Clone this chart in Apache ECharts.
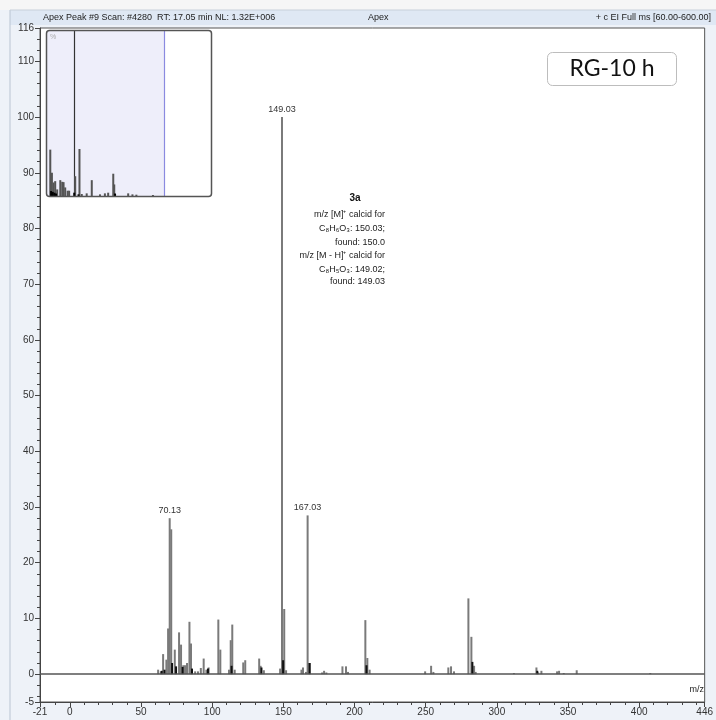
<!DOCTYPE html>
<html>
<head>
<meta charset="utf-8">
<script src="https://cdn.jsdelivr.net/npm/echarts@6/dist/echarts.min.js"></script>
<style>html,body{margin:0;padding:0;background:#fff}#c{width:716px;height:720px}</style>
</head>
<body>
<div id="c"></div>
<script>
// ---- Data (m/z, relative abundance %) ----
const peaksGray = [
  [62.0,0.8],[63.9,0.5],[65.5,3.6],[67.8,2.6],[69.0,8.2],[70.13,28.0],[71.2,26.0],[73.7,4.4],
  [76.7,7.5],[78.1,5.3],[79.7,1.6],[80.9,1.6],[82.3,2.0],[84.0,9.4],[85.1,5.5],[88.0,0.5],
  [90.0,0.5],[92.0,1.1],[94.0,2.8],[95.9,0.8],[97.5,1.2],[104.3,9.8],[105.7,4.4],[111.8,0.8],
  [113.0,6.1],[114.1,8.9],[115.8,0.8],[121.8,2.1],[123.2,2.5],[133.0,2.8],[134.0,1.5],[136.3,0.7],
  [147.7,1.0],[149.03,100],[150.6,11.7],[151.9,0.7],[162.7,0.8],[163.8,1.2],[165.9,0.4],
  [167.03,28.5],[168.7,2.0],[177.2,0.3],[178.6,0.6],[180.2,0.3],[191.5,1.4],[194.0,1.4],[195.4,0.4],
  [207.6,9.7],[209.0,2.9],[210.6,0.8],[249.6,0.5],[253.8,1.5],[255.4,0.4],[265.9,1.2],[267.8,1.4],
  [269.9,0.5],[280.0,13.6],[282.1,6.7],[284.0,1.5],[285.1,0.4],[312.0,0.2],[327.8,1.2],[329.0,0.3],
  [331.3,0.6],[342.3,0.5],[343.7,0.6],[347.0,0.2],[356.1,0.7],[407.8,0.2]
];
const peaksDark = [
  [64.5,0.6],[66.5,0.8],[71.8,2.0],[74.6,1.4],[79.2,1.3],[85.8,1.0],[97.0,1.0],[113.6,1.5],
  [134.6,1.2],[149.8,2.5],[168.3,2.0],[208.4,1.6],[282.8,2.2],[328.4,0.6]
];
const labeledPeaks = { "149.03": "149.03", "167.03": "167.03", "70.13": "70.13" };

// inset overview spectrum (arbitrary 0-100 position, % height)
const insetPeaks = [
  [2.0,28.1],[3.0,14.1],[4.0,8.2],[5.0,9.0],[6.2,4.0],[8.1,9.6],[9.3,8.6],[10.1,8.4],[11.1,5.2],
  [12.6,3.2],[13.5,3.2],[17.2,12.0],[19.8,28.5],[21.2,1.2],[24.2,1.6],[27.3,9.6],[32.3,1.0],
  [35.3,1.6],[37.3,2.0],[40.4,13.5],[41.0,7.0],[49.5,1.6],[52.1,1.0],[54.5,0.8],[64.6,0.6]
];
const insetDark = [[2.5,3.0],[3.5,2.5],[4.5,2.0],[5.5,1.5],[16.6,2.0],[19.2,1.0],[41.5,1.5]];
const insetMarkerBlack = 16.6;
const insetWindowEnd = 71.4;

// ticks
const xTickLabels = [-21,0,50,100,150,200,250,300,350,400,446];
const yTickLabels = [-5,0,10,20,30,40,50,60,70,80,90,100,110,116];
const xMinorTicks = [];
for (let v = -10; v < 446; v += 10) if (v % 50 !== 0) xMinorTicks.push(v);
const yMinorTicks = [];
for (let v = -4; v < 116; v += 2) if (v % 10 !== 0) yMinorTicks.push(v);

const headerLeft = "Apex Peak #9 Scan: #4280  RT: 17.05 min NL: 1.32E+006";
const headerMid = "Apex";
const headerRight = "+ c EI Full ms [60.00-600.00]";
const annTitle = "3a";
const annLines = [
  "m/z [M]\u207A calcid for",
  "C\u2088H\u2086O\u2083: 150.03;",
  "found: 150.0",
  "m/z [M - H]\u207A calcid for",
  "C\u2088H\u2085O\u2083: 149.02;",
  "found: 149.03"
];
const sampleTag = "RG-10 h";

const F = "'Liberation Sans', Arial, sans-serif";
const chart = echarts.init(document.getElementById('c'), null, {renderer: 'canvas'});

const grayData = peaksGray.map(p => {
  const key = String(p[0]);
  if (labeledPeaks[key]) {
    return {value: p, label: {show: true, position: 'top', distance: 3, formatter: labeledPeaks[key],
      fontSize: 9, color: '#333', fontFamily: F}};
  }
  return {value: p};
});

const graphics = [
  {type: 'rect', shape: {x: 0, y: 0, width: 716, height: 720}, style: {fill: '#eef2f8'}, z: -10, silent: true},
  {type: 'rect', shape: {x: 0, y: 0, width: 716, height: 10}, style: {fill: '#f6f6f6'}, z: -9, silent: true},
  {type: 'rect', shape: {x: 10, y: 10, width: 706, height: 15}, style: {fill: '#dfe8f4'}, z: -9, silent: true},
  {type: 'line', shape: {x1: 10, y1: 10, x2: 10, y2: 720}, style: {stroke: '#b9c4d2', lineWidth: 1}, z: -8, silent: true},
  {type: 'line', shape: {x1: 10, y1: 10, x2: 716, y2: 10}, style: {stroke: '#c8d0da', lineWidth: 1}, z: -8, silent: true},
  {type: 'text', x: 43, y: 18, style: {text: headerLeft, font: '9px ' + F, fill: '#222', textVerticalAlign: 'middle'}, z: 10},
  {type: 'text', x: 368, y: 18, style: {text: headerMid, font: '9px ' + F, fill: '#222', textVerticalAlign: 'middle'}, z: 10},
  {type: 'text', x: 711, y: 18, style: {text: headerRight, font: '9px ' + F, fill: '#222', textAlign: 'right', textVerticalAlign: 'middle'}, z: 10},
  {type: 'text', x: 355, y: 198, style: {text: annTitle, font: 'bold 10px ' + F, fill: '#111', textAlign: 'center', textVerticalAlign: 'middle'}, z: 10},
  {type: 'rect', shape: {x: 547.5, y: 52.5, width: 129, height: 33, r: 5}, style: {fill: '#fff', stroke: '#bdbdbd', lineWidth: 1}, z: 10},
  {type: 'text', x: 612, y: 69, style: {text: sampleTag, font: '23px Lato, "Open Sans", sans-serif', fill: '#111', textAlign: 'center', textVerticalAlign: 'middle'}, z: 11},
  {type: 'text', x: 704, y: 690, style: {text: 'm/z', font: '9px ' + F, fill: '#222', textAlign: 'right', textVerticalAlign: 'middle'}, z: 10},
  {type: 'rect', shape: {x: 46.5, y: 30.5, width: 165, height: 166, r: 3}, style: {fill: 'none', stroke: '#555', lineWidth: 1.5}, z: 20, silent: true},
  {type: 'text', x: 50, y: 37, style: {text: '%', font: '7px ' + F, fill: '#aaa', textVerticalAlign: 'middle'}, z: 21}
];
const annY = [215, 229, 243, 256, 270, 282];
annLines.forEach((t, i) => graphics.push({type: 'text', x: 385, y: annY[i],
  style: {text: t, font: '9px ' + F, fill: '#222', textAlign: 'right', textVerticalAlign: 'middle'}, z: 10}));

const option = {
  animation: false,
  backgroundColor: 'transparent',
  graphic: graphics,
  grid: [
    {left: 40, right: 8, top: 28, bottom: 18, show: true, backgroundColor: '#fff', borderColor: '#555', borderWidth: 1},
    {left: 47, top: 31, width: 164, height: 165, show: true, backgroundColor: '#fff', borderWidth: 0}
  ],
  xAxis: [
    {type: 'value', gridIndex: 0, min: -21, max: 446, position: 'bottom', splitLine: {show: false},
      axisLine: {show: true, onZero: false, lineStyle: {color: '#444', width: 1}},
      axisTick: {show: true, length: 5, lineStyle: {color: '#444'}, customValues: xTickLabels},
      axisLabel: {customValues: xTickLabels, fontSize: 10, color: '#333', fontFamily: F, margin: 5, showMinLabel: true, showMaxLabel: true}},
    {type: 'value', gridIndex: 0, min: -21, max: 446, position: 'bottom', splitLine: {show: false},
      axisLine: {show: false, onZero: false},
      axisTick: {show: true, length: 3, lineStyle: {color: '#444'}, customValues: xMinorTicks},
      axisLabel: {show: false}},
    {type: 'value', gridIndex: 1, min: 0, max: 100, show: false}
  ],
  yAxis: [
    {type: 'value', gridIndex: 0, min: -5, max: 116, position: 'left', splitLine: {show: false},
      axisLine: {show: true, onZero: false, lineStyle: {color: '#444', width: 1}},
      axisTick: {show: true, length: 5, lineStyle: {color: '#444'}, customValues: yTickLabels},
      axisLabel: {customValues: yTickLabels, fontSize: 10, color: '#333', fontFamily: F, margin: 6, showMinLabel: true, showMaxLabel: true}},
    {type: 'value', gridIndex: 0, min: -5, max: 116, position: 'left', splitLine: {show: false},
      axisLine: {show: false, onZero: false},
      axisTick: {show: true, length: 3, lineStyle: {color: '#444'}, customValues: yMinorTicks},
      axisLabel: {show: false}},
    {type: 'value', gridIndex: 1, min: 0, max: 100, show: false}
  ],
  series: [
    {type: 'bar', xAxisIndex: 0, yAxisIndex: 0, barWidth: 2, barGap: '-100%', data: grayData,
      itemStyle: {color: '#7a7a7a'}, z: 3,
      markLine: {silent: true, symbol: 'none', label: {show: false},
        lineStyle: {color: '#555', width: 1.5, type: 'solid'}, data: [{yAxis: 0}]}},
    {type: 'bar', xAxisIndex: 0, yAxisIndex: 0, barWidth: 2, barGap: '-100%', data: peaksDark,
      itemStyle: {color: '#111'}, z: 4},
    {type: 'bar', xAxisIndex: 2, yAxisIndex: 2, barWidth: 2, barGap: '-100%', data: insetPeaks,
      itemStyle: {color: '#555'}, z: 5,
      markArea: {silent: true, itemStyle: {color: '#eeeefa'}, data: [[{xAxis: 0}, {xAxis: insetWindowEnd}]]},
      markLine: {silent: true, symbol: 'none', label: {show: false},
        data: [
          {xAxis: insetMarkerBlack, lineStyle: {color: '#333', width: 1.2, type: 'solid'}},
          {xAxis: insetWindowEnd, lineStyle: {color: '#8a8ae0', width: 1.2, type: 'solid'}}
        ]}},
    {type: 'bar', xAxisIndex: 2, yAxisIndex: 2, barWidth: 2, barGap: '-100%', data: insetDark,
      itemStyle: {color: '#000'}, z: 6}
  ]
};
chart.setOption(option);
</script>
</body>
</html>
